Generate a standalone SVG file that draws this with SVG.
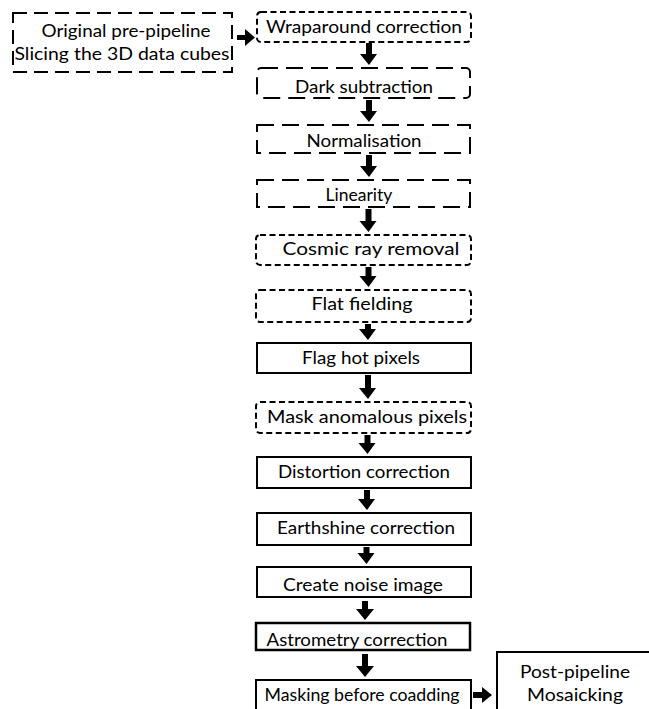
<svg xmlns="http://www.w3.org/2000/svg" width="649" height="709" viewBox="0 0 649 709">
<style>
  .box{fill:#fff;stroke:#000;stroke-width:2}
  .sd{stroke-dasharray:6 3.5}
  .ld{stroke-dasharray:17 8}
  .solid{stroke-width:2}
  .t{font-family:Lato,"Open Sans","Liberation Sans",sans-serif;font-size:18px;fill:#000;text-anchor:middle}
  .arr{fill:#000}
</style>
<rect width="649" height="709" fill="#fff"/>
<g id="original">
  <rect class="box ld" x="13" y="13" width="219" height="59" style="stroke-dasharray:14 7"/>
  <text class="t" x="126" y="37" textLength="169" lengthAdjust="spacingAndGlyphs">Original pre-pipeline</text>
  <text class="t" x="122" y="60" textLength="215" lengthAdjust="spacingAndGlyphs">Slicing the 3D data cubes</text>
</g>
<g id="wraparound">
  <rect class="box sd" x="257" y="12" width="214" height="30" rx="4"/>
  <text class="t" x="364" y="33" textLength="196" lengthAdjust="spacingAndGlyphs">Wraparound correction</text>
</g>
<g id="dark">
  <rect class="box ld" x="257" y="68" width="213" height="30" rx="4"/>
  <text class="t" x="364" y="93" textLength="138" lengthAdjust="spacingAndGlyphs">Dark subtraction</text>
</g>
<g id="normalisation">
  <rect class="box ld" x="257" y="125" width="213" height="28"/>
  <text class="t" x="364" y="147" textLength="115" lengthAdjust="spacingAndGlyphs">Normalisation</text>
</g>
<g id="linearity">
  <rect class="box ld" x="257" y="180" width="213" height="27"/>
  <text class="t" x="359" y="201" style="font-size:17.5px">Linearity</text>
</g>
<g id="cosmic">
  <rect class="box sd" x="256" y="235" width="215" height="30" rx="4"/>
  <text class="t" x="371" y="255" textLength="177" lengthAdjust="spacingAndGlyphs">Cosmic ray removal</text>
</g>
<g id="flat">
  <rect class="box sd" x="256" y="290" width="215" height="32" rx="4"/>
  <text class="t" x="362" y="310" textLength="101" lengthAdjust="spacingAndGlyphs">Flat fielding</text>
</g>
<g id="flaghot">
  <rect class="box solid" x="257" y="343" width="214" height="30"/>
  <text class="t" x="361" y="364" textLength="118" lengthAdjust="spacingAndGlyphs">Flag hot pixels</text>
</g>
<g id="mask">
  <rect class="box sd" x="256" y="402" width="215" height="31" rx="4"/>
  <text class="t" x="367" y="423" textLength="200" lengthAdjust="spacingAndGlyphs">Mask anomalous pixels</text>
</g>
<g id="distortion">
  <rect class="box solid" x="257" y="457" width="214" height="31"/>
  <text class="t" x="364" y="478" textLength="172" lengthAdjust="spacingAndGlyphs">Distortion correction</text>
</g>
<g id="earthshine">
  <rect class="box solid" x="257" y="513" width="214" height="32"/>
  <text class="t" x="366" y="534" textLength="178" lengthAdjust="spacingAndGlyphs">Earthshine correction</text>
</g>
<g id="noise">
  <rect class="box solid" x="257" y="567" width="214" height="30"/>
  <text class="t" x="363" y="591" textLength="160" lengthAdjust="spacingAndGlyphs">Create noise image</text>
</g>
<g id="astrometry">
  <rect class="box solid" x="256" y="623" width="214" height="27" style="stroke-width:2.5"/>
  <text class="t" x="357" y="646" textLength="181" lengthAdjust="spacingAndGlyphs">Astrometry correction</text>
</g>
<g id="masking">
  <rect class="box solid" x="256" y="680" width="215" height="34"/>
  <text class="t" x="362" y="701" textLength="195" lengthAdjust="spacingAndGlyphs">Masking before coadding</text>
</g>
<g id="post">
  <rect class="box solid" x="497" y="652" width="160" height="62"/>
  <text class="t" x="575" y="678" textLength="110" lengthAdjust="spacingAndGlyphs">Post-pipeline</text>
  <text class="t" x="575" y="701" textLength="96" lengthAdjust="spacingAndGlyphs">Mosaicking</text>
</g>
<g id="connectors" class="arr">
  <polygon points="237,35 245,35 245,29 255,37.5 245,46 245,40 237,40"/>
  <polygon points="473,692 482,692 482,687 492,695 482,703 482,698 473,698"/>
  <polygon points="366,43 372,43 372,54 377,54 369,65 360,54 366,54"/>
  <polygon points="366,100 372,100 372,111 377,111 369,122 360,111 366,111"/>
  <polygon points="366,155 372,155 372,166 377,166 369,177 360,166 366,166"/>
  <polygon points="365.5,209 371.5,209 371.5,221 376.5,221 368.5,232 359.5,221 365.5,221"/>
  <polygon points="365.5,267 371.5,267 371.5,276 376.5,276 368.5,287 359.5,276 365.5,276"/>
  <polygon points="365,324 371,324 371,329 376,329 368,340 359,329 365,329"/>
  <polygon points="365,375 371,375 371,388 376,388 368,399 359,388 365,388"/>
  <polygon points="364.5,435 370.5,435 370.5,443 375.5,443 367.5,454 358.5,443 364.5,443"/>
  <polygon points="364,490 370,490 370,499 375,499 367,510 358,499 364,499"/>
  <polygon points="363.5,547 369.5,547 369.5,553 374.5,553 366.5,564 357.5,553 363.5,553"/>
  <polygon points="362,601 368,601 368,609 374,609 365,620 356,609 362,609"/>
  <polygon points="362,654 368,654 368,666 374,666 365,677 356,666 362,666"/>
</g>
</svg>
